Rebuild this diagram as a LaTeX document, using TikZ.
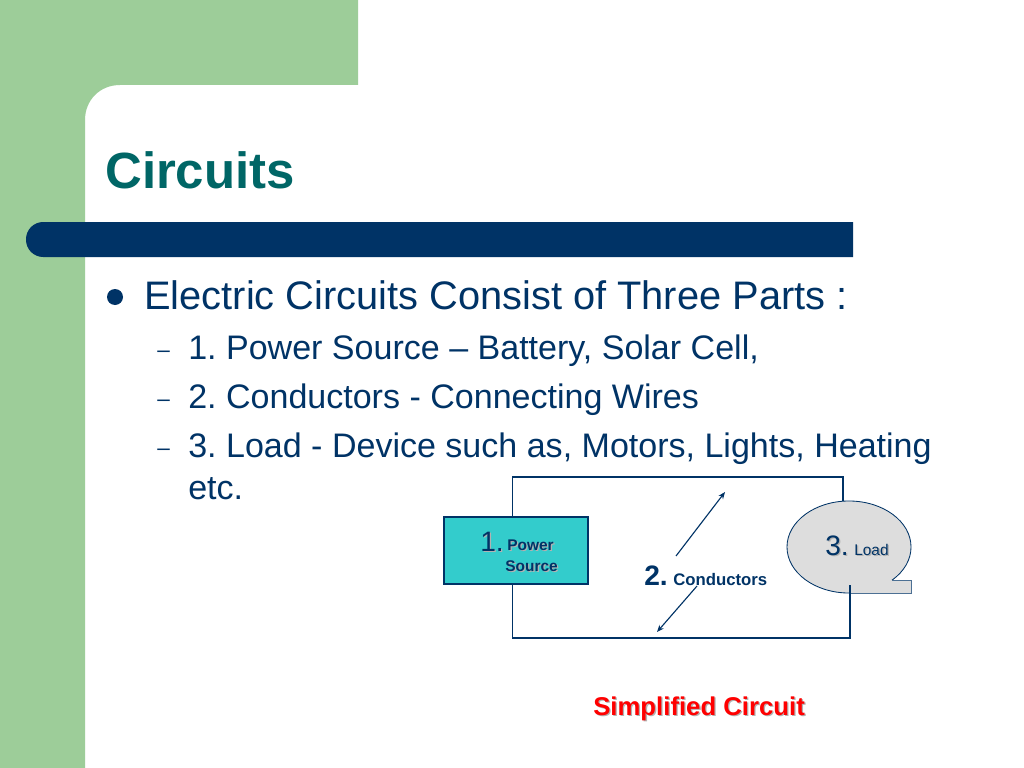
\documentclass[tikz,border=0pt]{standalone}
\usepackage{fontspec}
\setmainfont{Liberation Sans}
\usetikzlibrary{shapes.geometric,arrows.meta}
\definecolor{slidegreen}{HTML}{9DCD99}
\definecolor{slidenavy}{HTML}{003366}
\definecolor{slideteal}{HTML}{006666}
\definecolor{sourcefill}{HTML}{33CCCC}
\definecolor{loadfill}{HTML}{DDDDDD}
\newcommand{\softshadow}[1]{\leavevmode\rlap{\kern0.9pt\raisebox{-0.9pt}{\textcolor{black!30}{#1}}}#1}
\newcommand{\fsz}[1]{\fontsize{#1}{#1}\selectfont}
\frenchspacing
\tikzset{
    slidetext/.style={anchor=base west,inner sep=0pt,text=slidenavy},
    wire/.style={draw=slidenavy,line width=0.8pt},
    pointer/.style={wire,-{Stealth[length=5pt,width=4pt]}},
    mainline/.style={slidetext,font=\fsz{28.3}},
    subline/.style={slidetext,font=\fsz{24.2}},
    dashmark/.style={slidetext,font=\fsz{16}},
    biglabel/.style={slidetext,font=\fsz{20}},
    smalllabel/.style={slidetext,font=\bfseries\fsz{11}}
}
\begin{document}
\begin{tikzpicture}[x=0.025cm,y=-0.025cm]
    \useasboundingbox (0,0) rectangle (1024,768);

    % slide background
    \fill[white] (0,0) rectangle (1024,768);
    \fill[slidegreen] (0,0) -- (358,0) -- (358,85) -- (120,85) .. controls (100,85) and (85,100) .. (85,120) -- (85,768) -- (0,768) -- cycle;
    \fill[slidenavy] (853,222) -- (60,222) [rounded corners=0.43cm] -- (26,222) -- (26,257) [sharp corners] -- (853,257) -- cycle;

    \node (title) [slidetext,text=slideteal,font=\bfseries\fsz{36.2}] at (105,189) {Circuits};

    % bullet list
    \fill[slidenavy] (115,297) circle (8);
    \node (mainitem) [mainline] at (144,309) {Electric Circuits Consist of Three Parts :};
    \node (dashone) [dashmark] at (157,357) {–};
    \node (itemone) [subline] at (188,359) {1. Power Source – Battery, Solar Cell,};
    \node (dashtwo) [dashmark] at (157,406) {–};
    \node (itemtwo) [subline] at (188,408) {2. Conductors - Connecting Wires};
    \node (dashthree) [dashmark] at (157,455) {–};
    \node (itemthree) [subline] at (188,457) {3. Load - Device such as, Motors, Lights, Heating};
    \node (itemrest) [subline] at (188,499) {etc.};

    % circuit
    \coordinate (wireNW) at (512.5,477);
    \coordinate (wireNE) at (843,477);
    \coordinate (wireSW) at (512.5,638);
    \coordinate (wireSE) at (850,638);
    \coordinate (wireend) at (850,585);

    \node (source) [draw=slidenavy,line width=0.8pt,fill=sourcefill,minimum width=3.6cm,minimum height=1.675cm,inner sep=0pt] at (516,550.5) {};
    \node (load) [ellipse,draw=slidenavy,line width=0.6pt,fill=loadfill,minimum width=3.1cm,minimum height=2.3cm,inner sep=0pt] at (849,547) {};
    \fill[loadfill] (850,593) -- (911,593) -- (911,580) -- (892,580) -- (870,570) -- cycle;
    \draw[draw=slidenavy!70,line width=0.7pt] (892,580) -- (911,580) -- (911,593) -- (850,593);

    \draw[wire] (wireNW |- source.north) -- (wireNW) -- (wireNE) -- (wireNE |- load.north);
    \draw[wire] (wireSW |- source.south) -- (wireSW) -- (wireSE) -- (wireend);

    \coordinate (upperfrom) at (676,556);
    \coordinate (upperto) at (725,492);
    \coordinate (lowerfrom) at (697,586);
    \coordinate (lowerto) at (657,632);
    \draw[pointer] (upperfrom) -- (upperto);
    \draw[pointer] (lowerfrom) -- (lowerto);

    \node (sourcenum) [biglabel] at (480,551) {\softshadow{1.}};
    \node (sourcetop) [smalllabel] at (507,550) {\softshadow{Power}};
    \node (sourcelow) [smalllabel] at (505,571) {\softshadow{Source}};
    \node (wirenum) [biglabel,font=\bfseries\fsz{20}] at (644,585) {2.};
    \node (wirelabel) [smalllabel,font=\bfseries\fsz{11.9}] at (673,585) {Conductors};
    \node (loadnum) [biglabel] at (825,555) {\softshadow{3.}};
    \node (loadlabel) [smalllabel,font=\fsz{11}] at (854,555) {\softshadow{Load}};

    \node (caption) [slidetext,text=red,font=\bfseries\fsz{18.3}] at (593,715) {\softshadow{Simplified Circuit}};
\end{tikzpicture}
\end{document}
